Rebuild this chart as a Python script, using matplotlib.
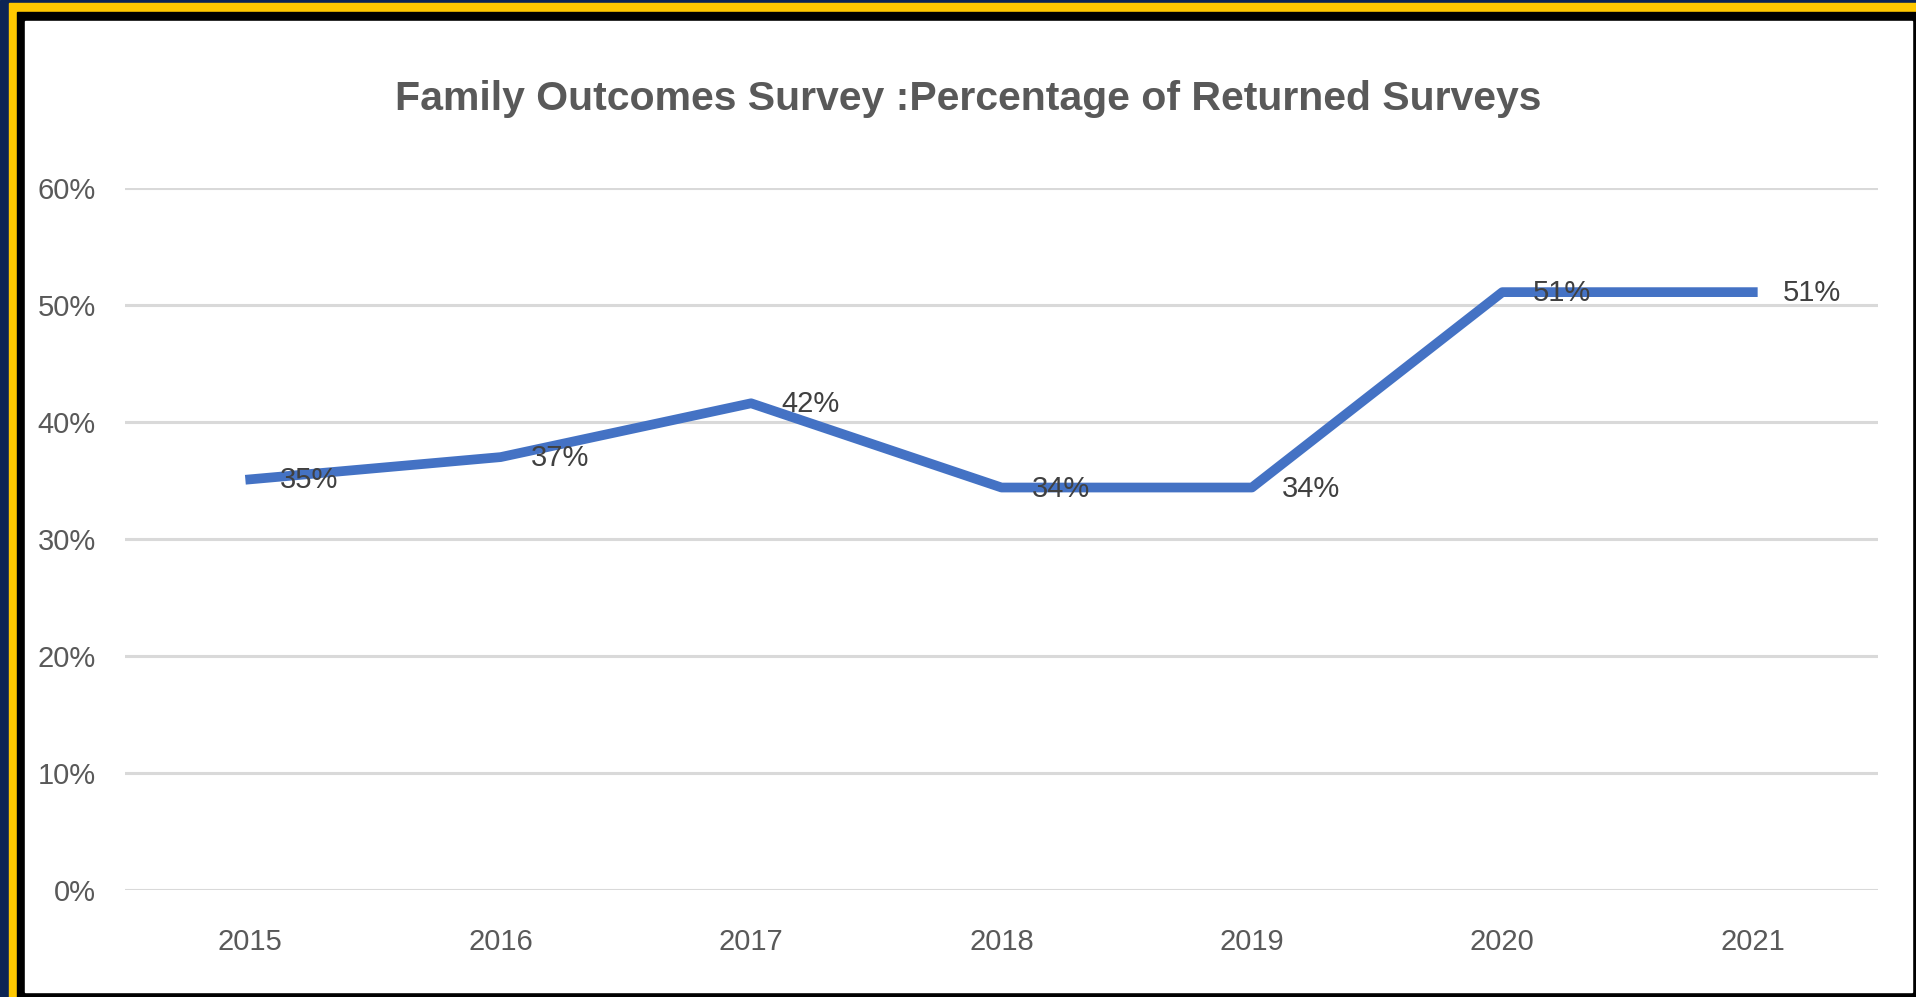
import matplotlib.pyplot as plt
from matplotlib.patches import Rectangle
from matplotlib.ticker import PercentFormatter

years = ['2015', '2016', '2017', '2018', '2019', '2020', '2021']
returned = [0.351, 0.370, 0.416, 0.344, 0.344, 0.511, 0.511]
labels = ['35%', '37%', '42%', '34%', '34%', '51%', '51%']
y_ticks = [0, 0.1, 0.2, 0.3, 0.4, 0.5, 0.6]

W, H = 1916, 997
font = ['Liberation Sans Narrow', 'Liberation Sans', 'DejaVu Sans']
plt.rcParams['font.family'] = font

fig = plt.figure(figsize=(W / 100, H / 100), dpi=100)


def frame(x0, y0, x1, y1, color):
    # pixel box measured from the top-left corner
    fig.patches.append(Rectangle((x0 / W, 1 - y1 / H), (x1 - x0) / W, (y1 - y0) / H,
                                 transform=fig.transFigure, color=color, zorder=-10))


frame(0, 0, W, H, '#0c2454')
frame(9, 3, W, H, '#ffc800')
frame(17, 12, W, H, '#000000')
frame(25, 21, 1912, 992, '#ffffff')

ax = fig.add_axes([125 / W, (H - 890) / H, 1753 / W, 702 / H])
ax.set_facecolor('none')
x = list(range(len(years)))
ax.plot(x, returned, color='#4472c4', linewidth=7, solid_joinstyle='round', zorder=3)

for xi, v, lab in zip(x, returned, labels):
    ax.annotate(lab, (xi, v), xytext=(30, -1), textcoords='offset pixels',
                ha='left', va='center', fontsize=21, color='#404040', zorder=4)

ax.set_xlim(-0.5, len(years) - 0.5)
ax.set_ylim(0, 0.6)
ax.set_yticks(y_ticks)
ax.yaxis.set_major_formatter(PercentFormatter(1.0, decimals=0))
ax.set_xticks(x)
ax.set_xticklabels(years)
ax.grid(axis='y', color='#d9d9d9', linewidth=2.2)
ax.set_axisbelow(True)
for s in ax.spines.values():
    s.set_visible(False)
ax.tick_params(axis='both', length=0, labelsize=21, labelcolor='#595959')
ax.tick_params(axis='y', pad=21)
ax.tick_params(axis='x', pad=27)

fig.text(968 / W, 1 - 99 / H, 'Family Outcomes Survey :Percentage of Returned Surveys',
         ha='center', va='center', fontsize=29.5, fontweight='bold', color='#595959')

fig.savefig('out.png', dpi=100)
